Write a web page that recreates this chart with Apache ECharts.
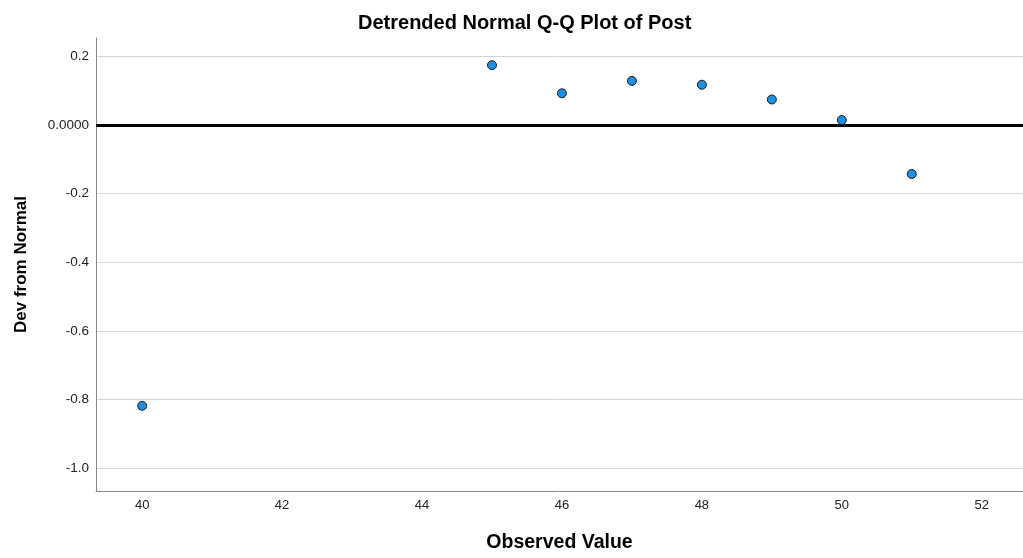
<!DOCTYPE html>
<html><head><meta charset="utf-8">
<script src="https://cdn.jsdelivr.net/npm/echarts@6/dist/echarts.min.js"></script>
<style>html,body{margin:0;padding:0;background:#fff}#c{width:1023px;height:558px}</style>
</head><body><div id="c"></div>
<script>
const observed = [40, 45, 46, 47, 48, 49, 50, 51];
const devFromNormal = [-0.818, 0.174, 0.092, 0.128, 0.117, 0.074, 0.014, -0.143];
const xTicks = [40, 42, 44, 46, 48, 50, 52];
const yTicks = [-1.0, -0.8, -0.6, -0.4, -0.2, 0, 0.2];

const chart = echarts.init(document.getElementById('c'));
const F = 'Arial, "Liberation Sans", sans-serif';
chart.setOption({
  animation: false,
  title: { text: 'Detrended Normal Q-Q Plot of Post', left: 353, top: 8,
    textStyle: { fontFamily: F, fontSize: 20, fontWeight: 'bold', color: '#000' } },
  grid: { left: 96, right: 0, top: 38, bottom: 61 },
  xAxis: {
    type: 'value', min: 39.34, max: 52.59,
    name: 'Observed Value', nameLocation: 'middle', nameGap: 42,
    nameTextStyle: { fontFamily: F, fontSize: 19.5, fontWeight: 'bold', color: '#000' },
    axisLine: { show: true, onZero: false, lineStyle: { color: '#888', width: 1 } },
    axisTick: { show: false, customValues: xTicks },
    axisLabel: { customValues: xTicks, fontFamily: F, fontSize: 13, color: '#222', margin: 8 },
    splitLine: { show: false }
  },
  yAxis: {
    type: 'value', min: -1.066, max: 0.253,
    name: 'Dev from Normal', nameLocation: 'middle', nameGap: 66,
    nameTextStyle: { fontFamily: F, fontSize: 17, fontWeight: 'bold', color: '#000' },
    axisLine: { show: true, onZero: false, lineStyle: { color: '#888', width: 1 } },
    axisTick: { show: false, customValues: yTicks },
    axisLabel: { customValues: yTicks, fontFamily: F, fontSize: 13.5, color: '#222', margin: 7,
      formatter: v => Math.abs(v) < 1e-9 ? '0.0000' : v.toFixed(1) },
    splitLine: { show: true, lineStyle: { color: '#d4d4d4', width: 1 } }
  },
  series: [{
    type: 'scatter',
    data: observed.map((x, i) => [x, devFromNormal[i]]),
    symbol: 'circle', symbolSize: 9,
    itemStyle: { color: '#1e8fe1', borderColor: '#1a1a1a', borderWidth: 1, opacity: 1 },
    markLine: { silent: true, symbol: 'none', label: { show: false },
      lineStyle: { color: '#000', width: 3, type: 'solid' },
      data: [{ yAxis: 0 }] },
    z: 5
  }]
});
</script></body></html>
